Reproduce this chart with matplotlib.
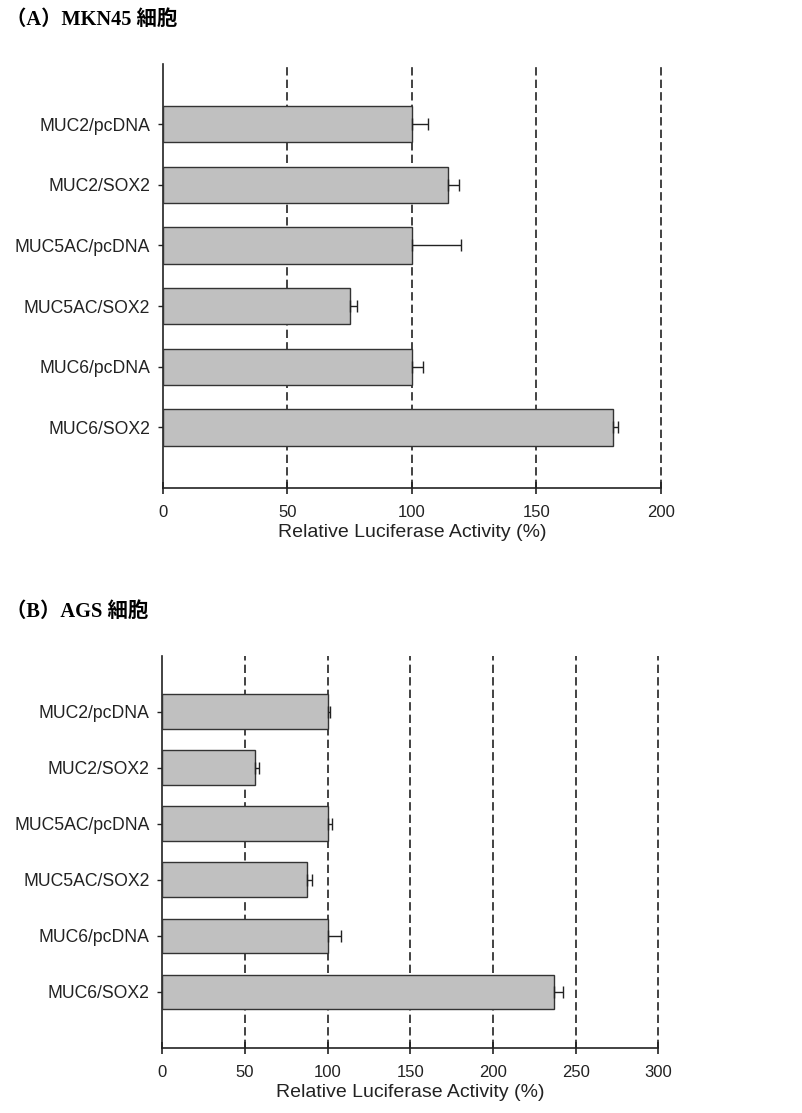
import matplotlib
matplotlib.use("Agg")
import matplotlib.pyplot as plt

categories = ["MUC2/pcDNA", "MUC2/SOX2", "MUC5AC/pcDNA", "MUC5AC/SOX2", "MUC6/pcDNA", "MUC6/SOX2"]
values_a = [100, 114.4, 100, 75.2, 100, 180.6]
errors_a = [6.4, 4.5, 19.7, 2.9, 4.5, 2.0]
values_b = [100, 56, 100, 87.7, 100, 237.1]
errors_b = [1.4, 2.5, 2.8, 3.0, 8.0, 5.4]
ticks_a = [0, 50, 100, 150, 200]
ticks_b = [0, 50, 100, 150, 200, 250, 300]
title_a = "（A）MKN45 細胞"
title_b = "（B）AGS 細胞"
xlabel = "Relative Luciferase Activity (%)"

plt.rcParams['font.family'] = ['Liberation Sans', 'DejaVu Sans']

fig = plt.figure(figsize=(8.02, 11.13), dpi=100)

def panel(rect, values, errors, ticks, bar_h):
    ax = fig.add_axes(rect)
    y = list(range(len(categories)))
    ax.barh(y, values, height=bar_h, color="#c0c0c0", edgecolor="#333333", linewidth=1.0, zorder=3)
    ax.errorbar(values, y, xerr=[[0]*len(errors), errors], fmt="none", ecolor="#222222",
                elinewidth=1.0, capsize=4, capthick=1.0, zorder=4)
    for t in ticks[1:]:
        ax.axvline(t, color="#222222", linewidth=1.2, dashes=(5, 2.5), zorder=1, clip_on=False)
    ax.set_xlim(ticks[0], ticks[-1])
    ax.set_ylim(len(categories), -1)
    ax.set_xticks(ticks)
    ax.set_yticks(y)
    ax.set_yticklabels(categories)
    ax.spines['top'].set_visible(False)
    ax.spines['right'].set_visible(False)
    for s in ('left', 'bottom'):
        ax.spines[s].set_linewidth(1.2)
        ax.spines[s].set_color("#222222")
    ax.tick_params(axis='x', direction='inout', length=8.6, width=1.2, labelsize=12, pad=8, colors="#222222")
    ax.tick_params(axis='y', direction='out', length=3.6, width=1.0, labelsize=12.7, pad=5.5, colors="#222222")
    ax.set_xlabel(xlabel, fontsize=14, labelpad=3, color="#222222")
    return ax

panel([0.2029, 0.5615, 0.6213, 0.3814], values_a, errors_a, ticks_a, 0.6)
panel([0.2024, 0.0584, 0.6185, 0.3525], values_b, errors_b, ticks_b, 0.62)

title_font = ['Liberation Serif', 'Noto Sans CJK JP']
fig.text(0.008, 1 - 20 / 1113, title_a, fontsize=14.7, fontweight='bold', family=title_font, va='center', ha='left')
fig.text(0.008, 1 - 612 / 1113, title_b, fontsize=14.7, fontweight='bold', family=title_font, va='center', ha='left')

fig.savefig("out.png", dpi=100)
